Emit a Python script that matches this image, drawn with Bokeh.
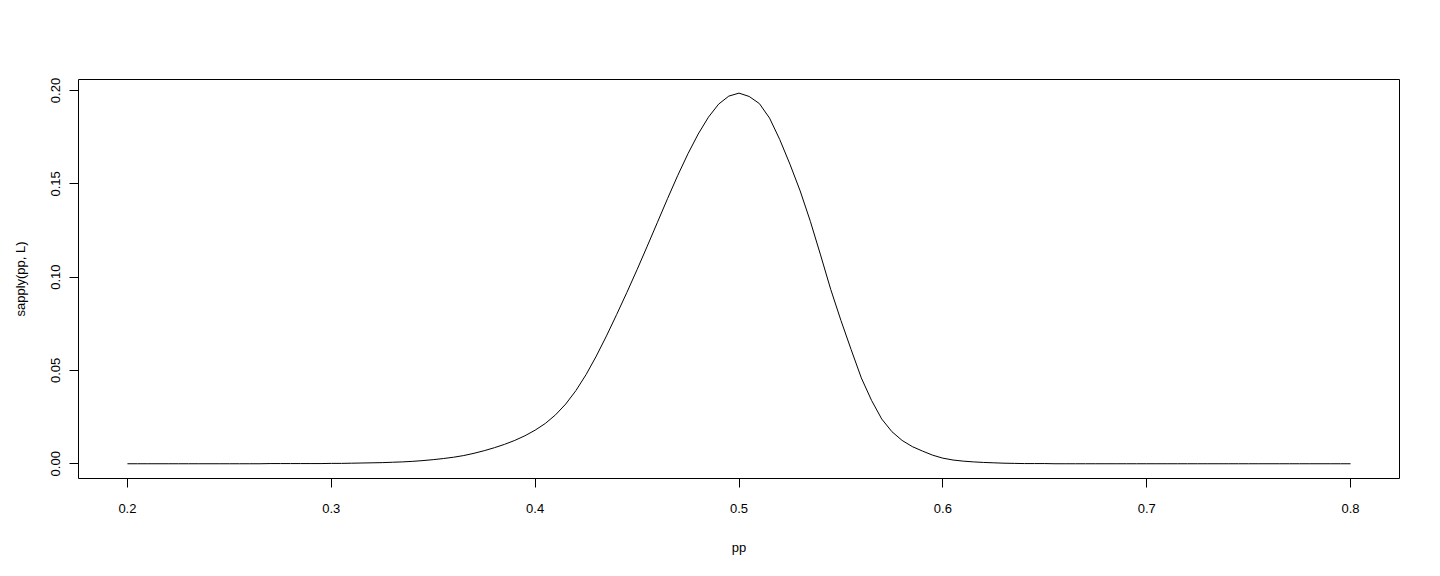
from bokeh.plotting import figure
from bokeh.models import Range1d, FixedTicker
from bokeh.embed import file_html
from bokeh.resources import INLINE

pp = [round(0.200 + 0.005 * i, 3) for i in range(121)]
likelihood = [
    # 0.200 - 0.250
    0.0000, 0.0000, 0.0000, 0.0000, 0.0000, 0.0000, 0.0000, 0.0000, 0.0000, 0.0000, 0.0000,
    # 0.255 - 0.295
    0.0000, 0.0000, 0.0000, 0.0001, 0.0001, 0.0001, 0.0001, 0.0001, 0.0001,
    # 0.300 - 0.400
    0.0002, 0.0002, 0.0003, 0.0004, 0.0005, 0.0006, 0.0008, 0.0010, 0.0013, 0.0017,
    0.0022, 0.0028, 0.0035, 0.0044, 0.0056, 0.0070, 0.0086, 0.0104, 0.0125, 0.0150,
    0.0180,
    # 0.405 - 0.500
    0.0216, 0.0262, 0.0320, 0.0392, 0.0478, 0.0577, 0.0685, 0.0800, 0.0918, 0.1040,
    0.1166, 0.1294, 0.1422, 0.1546, 0.1662, 0.1767, 0.1857, 0.1927, 0.1970, 0.1986,
    # 0.505 - 0.640
    0.1968, 0.1930, 0.1852, 0.1737, 0.1605, 0.1462, 0.1299, 0.1119, 0.0934, 0.0768,
    0.0612, 0.0460, 0.0340, 0.0240, 0.0172, 0.0125, 0.0092, 0.0068, 0.0046, 0.0030,
    0.0020, 0.0014, 0.0010, 0.0007, 0.0005, 0.0003, 0.0002, 0.0001,
    # 0.645 - 0.800
    0.0001, 0.0001, 0.0000, 0.0000, 0.0000, 0.0000, 0.0000, 0.0000, 0.0000, 0.0000,
    0.0000, 0.0000, 0.0000, 0.0000, 0.0000, 0.0000, 0.0000, 0.0000, 0.0000, 0.0000,
    0.0000, 0.0000, 0.0000, 0.0000, 0.0000, 0.0000, 0.0000, 0.0000, 0.0000, 0.0000,
    0.0000, 0.0000,
]
x_ticks = [0.2, 0.3, 0.4, 0.5, 0.6, 0.7, 0.8]
y_ticks = [0.00, 0.05, 0.10, 0.15, 0.20]
x_label = "pp"
y_label = "sapply(pp, L)"

FONT = "Liberation Sans"

p = figure(width=1432, height=568, output_backend="svg", toolbar_location=None,
           x_range=Range1d(0.176, 0.824), y_range=Range1d(-0.0079, 0.2059),
           min_border_left=78, min_border_right=33, min_border_top=79, min_border_bottom=90)
p.background_fill_color = "white"
p.border_fill_color = "white"
p.outline_line_color = "black"
p.outline_line_width = 1
p.grid.visible = False

p.line(pp, likelihood, line_color="black", line_width=1)

for ax in (p.xaxis[0], p.yaxis[0]):
    ax.axis_line_color = None
    ax.major_tick_in = 0
    ax.major_tick_out = 9
    ax.minor_tick_line_color = None
    ax.major_tick_line_color = "black"
    ax.major_label_text_font = FONT
    ax.major_label_text_font_size = "13px"
    ax.major_label_text_color = "black"
    ax.axis_label_text_font = FONT
    ax.axis_label_text_font_size = "13px"
    ax.axis_label_text_font_style = "normal"
    ax.axis_label_text_color = "black"

p.xaxis.ticker = FixedTicker(ticks=x_ticks)
p.yaxis.ticker = FixedTicker(ticks=y_ticks)
p.xaxis.major_label_overrides = {t: f"{t:.1f}" for t in x_ticks}
p.yaxis.major_label_overrides = {t: f"{t:.2f}" for t in y_ticks}
p.xaxis.axis_label = x_label
p.yaxis.axis_label = y_label
p.xaxis.major_label_standoff = 16
p.xaxis.axis_label_standoff = 24
p.yaxis.major_label_orientation = "vertical"
p.yaxis.major_label_standoff = 9
p.yaxis.axis_label_standoff = 21

open("out.html", "w").write(file_html(p, INLINE))
